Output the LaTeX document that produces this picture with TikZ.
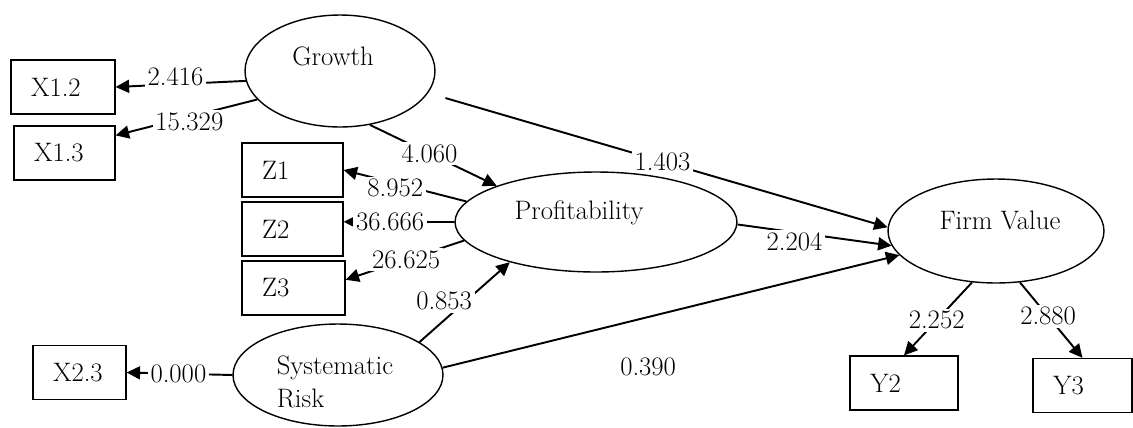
\documentclass[tikz,border=0pt]{standalone}
\usetikzlibrary{arrows.meta,shapes.geometric}
\begin{document}
\begin{tikzpicture}[x=0.02cm,y=-0.02cm,
  font=\fontsize{15.2pt}{18.7pt}\selectfont,
  lat/.style={draw, ellipse, line width=0.8pt, inner sep=0pt},
  obs/.style={draw, rectangle, line width=0.7pt, inner xsep=0.4cm, inner ysep=0pt,
              minimum height=1.08cm, align=left, text width=#1},
  conn/.style={line width=1.1pt, -{Triangle[length=0.27cm,width=0.26cm]}},
  lbl/.style={fill=white, inner sep=1.5pt}
]
\useasboundingbox (0,0) rectangle (1133,427);

% latent variables
\node[lat, minimum width=3.8cm, minimum height=2.24cm,
      label={[xshift=-0.14cm,yshift=0.3cm]center:Growth}] (g) at (340,71) {};
\node[lat, minimum width=5.64cm, minimum height=2.0cm,
      label={[xshift=-0.34cm,yshift=0.18cm]center:Profitability}] (p) at (596,222) {};
\node[lat, minimum width=4.32cm, minimum height=2.08cm,
      label={[xshift=0.08cm,yshift=0.22cm]center:Firm Value}] (fv) at (996,231) {};
\node[lat, minimum width=4.2cm, minimum height=2.04cm,
      label={[xshift=-0.06cm,yshift=-0.14cm,align=left]center:Systematic\\Risk}] (sr) at (338,375) {};

% indicators
\node[obs=1.28cm] (x12) at (63,87) {X1.2};
\node[obs=1.22cm] (x13) at (64.5,153) {X1.3};
\node[obs=1.22cm] (z1) at (292.5,170) {Z1};
\node[obs=1.22cm] (z2) at (292.5,229) {Z2};
\node[obs=1.26cm] (z3) at (293.5,288) {Z3};
\node[obs=1.36cm] (y2) at (904,383) {Y2};
\node[obs=1.18cm] (y3) at (1082.5,385.5) {Y3};
\node[obs=1.06cm] (x23) at (79.5,372.5) {X2.3};

% connectors
\draw[conn] (g.186) -- node[lbl,pos=0.54,yshift=0.14cm]{2.416} (x12.east);
\draw[conn] (g.199) -- node[lbl,pos=0.48,yshift=-0.1cm]{15.329} (x13.19);
\draw[conn] (g.299) -- node[lbl,pos=0.47]{4.060} (p.160);
\draw[conn, shorten <=0.36cm] (g.-14) -- node[lbl,pos=0.51]{1.403} (fv.178);
\draw[conn] (p.359) -- node[lbl,pos=0.37,yshift=-0.18cm]{2.204} (fv.188);
\draw[conn] (sr.4) -- node[pos=0.45,yshift=-1.0cm]{0.390} (fv.194);
\draw[conn] (sr.22) -- node[lbl,pos=0.45,xshift=-0.32cm,yshift=0.1cm]{0.853} (p.205);
\draw[conn] (p.171) -- node[lbl,pos=0.58,yshift=-0.1cm]{8.952} (z1.east);
\draw[conn] (p.180) -- node[lbl,pos=0.58]{36.666} (z2.8);
\draw[conn] (p.188) -- node[lbl,pos=0.49]{26.625} (z3.9);
\draw[conn] (fv.245) -- node[lbl,pos=0.52]{2.252} (y2.north);
\draw[conn] (fv.295) -- node[lbl,pos=0.45]{2.880} (y3.north);
\draw[conn] (sr.180) -- node[lbl,pos=0.51]{0.000} (x23.east);
\end{tikzpicture}
\end{document}
